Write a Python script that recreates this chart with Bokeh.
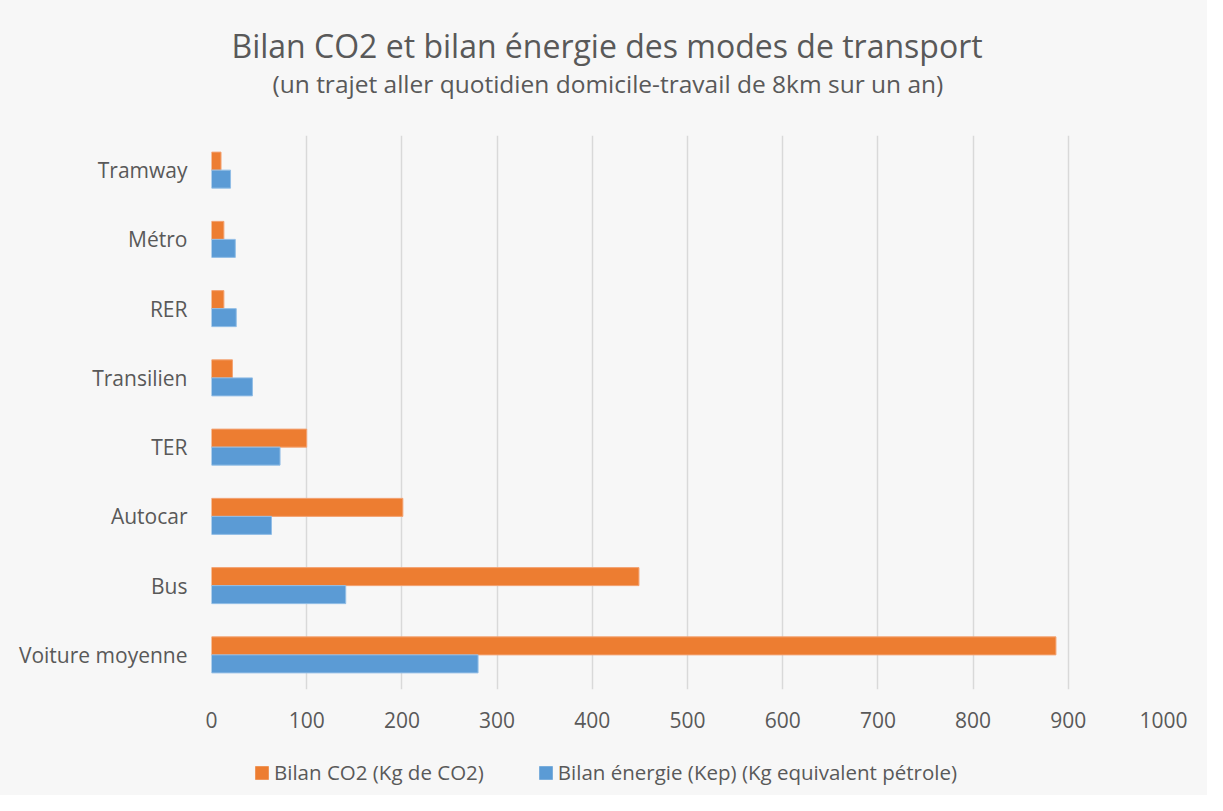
from bokeh.plotting import figure
from bokeh.models import FactorRange, Title, Legend, LegendItem, FixedTicker, ColumnDataSource
from bokeh.layouts import column
from bokeh.transform import dodge
from bokeh.embed import file_html
from bokeh.resources import INLINE

# categories listed bottom -> top
modes = ["Voiture moyenne", "Bus", "Autocar", "TER", "Transilien", "RER", "Métro", "Tramway"]
co2 = [887, 449, 201, 100, 22, 13, 13, 10]
energie = [280, 141, 63, 72, 43, 26, 25, 20]
x_ticks = [0, 100, 200, 300, 400, 500, 600, 700, 800, 900, 1000]

title_text = "Bilan CO2 et bilan énergie des modes de transport"
subtitle_text = "(un trajet aller quotidien domicile-travail de 8km sur un an)"
label_co2 = "Bilan CO2 (Kg de CO2)"
label_en = "Bilan énergie (Kep) (Kg equivalent pétrole)"

ORANGE = "#ED7D31"
BLUE = "#5B9BD5"
TXT = "#595959"
BG = "#F7F7F7"
FONT = "Open Sans"

src = ColumnDataSource(dict(mode=modes, co2=co2, en=energie))

p = figure(
    width=1207, height=745,
    y_range=FactorRange(factors=modes, range_padding=0),
    x_range=(0, 1000),
    output_backend="svg", toolbar_location=None,
    min_border_left=211, min_border_right=44, min_border_top=135, min_border_bottom=56,
)
p.background_fill_color = BG
p.border_fill_color = BG
p.outline_line_color = None

r1 = p.hbar(y=dodge("mode", 0.13, range=p.y_range), right="co2", left=0, height=0.26,
            source=src, fill_color=ORANGE, line_color="#F3A373", line_width=1)
r2 = p.hbar(y=dodge("mode", -0.13, range=p.y_range), right="en", left=0, height=0.26,
            source=src, fill_color=BLUE, line_color="#92BEE6", line_width=1)

p.xaxis.ticker = FixedTicker(ticks=x_ticks)
for ax in (p.xaxis[0], p.yaxis[0]):
    ax.axis_line_color = None
    ax.major_tick_line_color = None
    ax.minor_tick_line_color = None
    ax.major_label_text_color = TXT
    ax.major_label_text_font = FONT
    ax.major_label_text_font_size = "21px"
p.xaxis.major_label_standoff = 16
p.yaxis.major_label_standoff = 18

p.ygrid.grid_line_color = None
p.xgrid.grid_line_color = "#D9D9D9"
p.xgrid.grid_line_width = 1.5

p.add_layout(Title(text=subtitle_text, align="left", offset=61, standoff=71,
                   text_font=FONT, text_font_size="24.5px", text_font_style="normal",
                   text_color=TXT), "above")
p.add_layout(Title(text=title_text, align="left", offset=20, standoff=-74,
                   text_font=FONT, text_font_size="32px", text_font_style="normal",
                   text_color=TXT), "above")

# legend strip below the chart (frames are aligned by the column layout)
q = figure(width=1207, height=50, x_range=p.x_range,
           y_range=FactorRange(factors=modes, range_padding=0),
           output_backend="svg", toolbar_location=None,
           x_axis_location=None, y_axis_location=None,
           min_border_left=211, min_border_right=44, min_border_top=0, min_border_bottom=0)
q.background_fill_color = BG
q.border_fill_color = BG
q.outline_line_color = None
q.grid.grid_line_color = None
# zero-width bars: only their legend swatches show
k1 = q.hbar(y="mode", left="co2", right="co2", height=0.5, source=src,
            fill_color=ORANGE, line_color=None)
k2 = q.hbar(y="mode", left="en", right="en", height=0.5, source=src,
            fill_color=BLUE, line_color=None)

legend = Legend(items=[LegendItem(label=label_co2, renderers=[k1], index=0),
                       LegendItem(label=label_en, renderers=[k2], index=0)],
                orientation="horizontal", location=(42, 9),
                glyph_width=17, glyph_height=17, label_standoff=4, spacing=53,
                padding=0, margin=0, border_line_color=None, background_fill_alpha=0,
                label_text_font=FONT, label_text_font_size="20.5px", label_text_color=TXT)
q.add_layout(legend, "center")

layout = column(p, q, spacing=0, styles={"background-color": BG})
open("out.html", "w").write(file_html(layout, INLINE))
